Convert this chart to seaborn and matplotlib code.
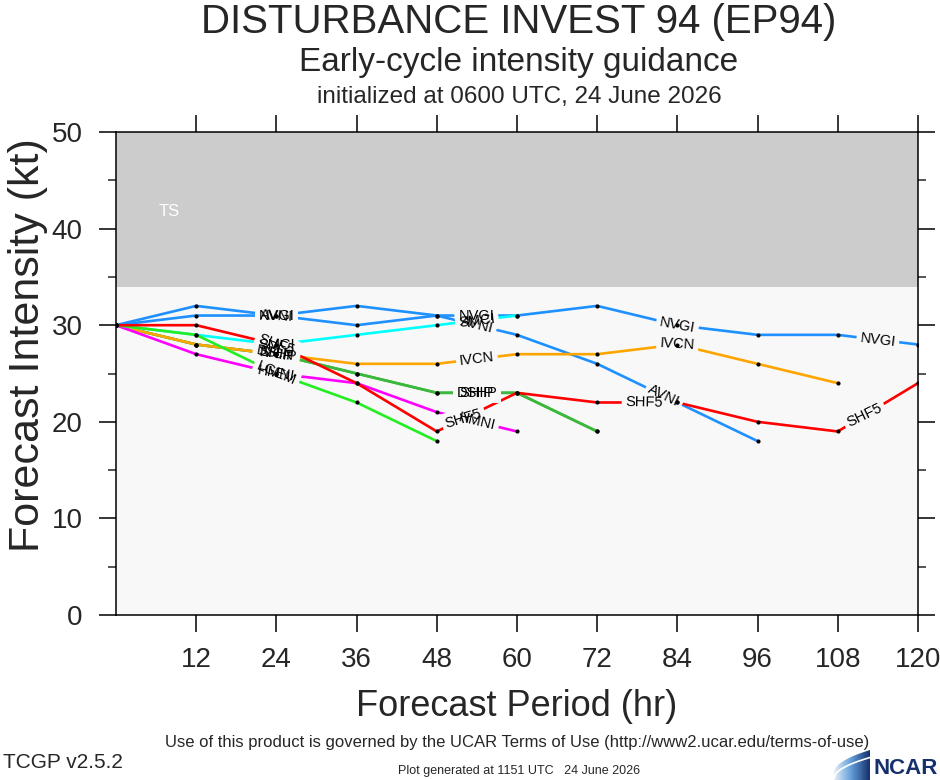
import numpy as np
import pandas as pd
import matplotlib
matplotlib.use('Agg')
import matplotlib.pyplot as plt
import seaborn as sns
from matplotlib.patches import Polygon

# forecast hours and model intensities (kt)
hours = [0, 12, 24, 36, 48, 60, 72, 84, 96, 108, 120]

nvgi = [30, 32, 31, 32, 31, 31, 32, 30, 29, 29, 28]
avni = [30, 31, 31, 30, 31, 29, 26, 22, 18]
ivcn = [30, 28, 27, 26, 26, 27, 27, 28, 26, 24]
smci = [30, 29, 28, 29, 30, 31]
dshp = [30, 28, 27, 25, 23, 23, 19]
ship = [30, 28, 27, 25, 23, 23, 19]
hmni = [30, 27, 25, 24, 21, 19]
lgem = [30, 29, 25, 22, 18]
shf5 = [30, 30, 28, 24, 19, 23, 22, 22, 20, 19, 24]

models = ['NVGI', 'AVNI', 'DSHP', 'SHIP', 'IVCN', 'SMCI', 'HMNI', 'LGEM', 'SHF5']
values = [nvgi, avni, dshp, ship, ivcn, smci, hmni, lgem, shf5]
colors = {'NVGI': '#1e90ff', 'AVNI': '#1e90ff', 'IVCN': '#ffa500', 'SMCI': '#00ffff',
          'DSHP': '#3cb83c', 'SHIP': '#3cb83c', 'HMNI': '#ff00ff', 'LGEM': '#22ee22',
          'SHF5': '#ff0000'}
label_hours = {'NVGI': [24, 54, 84, 114], 'AVNI': [24, 54, 82], 'IVCN': [24, 54, 84],
               'SMCI': [24, 54], 'DSHP': [24, 54], 'SHIP': [24, 54], 'HMNI': [24, 54],
               'LGEM': [24], 'SHF5': [24, 52, 79, 112]}

rows = []
for m, v in zip(models, values):
    for h, kt in zip(hours, v):
        rows.append({'model': m, 'hour': h, 'kt': kt})
df = pd.DataFrame(rows)

sns.set_style('ticks')
plt.rcParams['font.family'] = ['Liberation Sans', 'DejaVu Sans']
narrow = ['Liberation Sans Narrow', 'Liberation Sans']
bg = '#f8f8f8'

fig = plt.figure(figsize=(9.4, 7.8), dpi=100)
ax = fig.add_axes([116/940, 1-615/780, (918-116)/940, (615-132)/780])
ax.set_facecolor(bg)
ax.axhspan(34, 50, color='#cccccc', lw=0, zorder=0)
ax.text(8, 41.8, 'TS', color='white', fontsize=12, ha='center', va='center')

sns.lineplot(data=df, x='hour', y='kt', hue='model', hue_order=models, palette=colors,
             estimator=None, sort=False, linewidth=1.9, legend=False, ax=ax, zorder=2)
sns.scatterplot(data=df, x='hour', y='kt', color='black', s=9, linewidth=0,
                ax=ax, zorder=5)

# line labels with a gap in the line behind them
for m, v in zip(models, values):
    xs = hours[:len(v)]
    for h in label_hours[m]:
        y = np.interp(h, xs, v)
        xa, xb = h - 6, min(h + 6, xs[-1])
        ang = np.degrees(np.arctan2(np.interp(xb, xs, v) - np.interp(xa, xs, v), xb - xa))
        kw = dict(ha='center', va='center', fontsize=10.5, rotation=ang,
                  rotation_mode='anchor', transform_rotates_text=True)
        ax.text(h, y, m, color='none', zorder=3,
                bbox=dict(facecolor=bg, edgecolor='none', pad=2.5), **kw)
        ax.text(h, y, m, color='black', zorder=4, **kw)

ax.set_xlim(0, 120)
ax.set_ylim(0, 50)
ax.set_xticks([12, 24, 36, 48, 60, 72, 84, 96, 108, 120])
ax.set_yticks([0, 10, 20, 30, 40, 50])
ax.set_yticks([5, 15, 25, 35, 45], minor=True)
ax.tick_params(axis='both', which='major', direction='out', length=12, width=1.1,
               labelsize=20, top=True, right=True, color='black')
ax.tick_params(axis='y', which='minor', direction='out', length=6, width=1.1,
               left=True, right=True)
ax.tick_params(axis='x', pad=11)
ax.tick_params(axis='y', pad=12)
for s in ax.spines.values():
    s.set_linewidth(1.1)
    s.set_color('black')
ax.set_xlabel('')
ax.set_ylabel('')

fig.text(28/940, 1-345/780, 'Forecast Intensity (kt)', rotation=90, fontsize=31,
         ha='center', va='center')
fig.text(517/940, 1-707/780, 'Forecast Period (hr)', fontsize=26, ha='center', va='center')

fig.text(519/940, 1-22/780, 'DISTURBANCE INVEST 94 (EP94)', fontsize=29, ha='center', va='center')
fig.text(519/940, 1-62/780, 'Early-cycle intensity guidance', fontsize=24, ha='center', va='center')
fig.text(519/940, 1-97/780, 'initialized at 0600 UTC, 24 June 2026', fontsize=17.5,
         ha='center', va='center')

fig.text(517/940, 1-742/780,
         'Use of this product is governed by the UCAR Terms of Use (http://www2.ucar.edu/terms-of-use)',
         fontsize=12, family=narrow, ha='center', va='center')
fig.text(3/940, 1-762/780, 'TCGP v2.5.2', fontsize=15, family=narrow, ha='left', va='center')
fig.text(519/940, 1-771/780, 'Plot generated at 1151 UTC   24 June 2026', fontsize=9,
         family=narrow, ha='center', va='center')

# NCAR logo: text plus a gradient swoosh
fig.text(938/940, 1-769/780, 'NCAR', fontsize=16, family=narrow, weight='bold',
         color='#16306b', ha='right', va='center')
lax = fig.add_axes([834/940, 0, 36/940, 30/780])
lax.set_xlim(0, 1)
lax.set_ylim(0, 1)
lax.axis('off')
t = np.linspace(0, 1, 30)
curve = np.column_stack([t, 0.25 + 0.75 * np.sqrt(t)])
shape = Polygon(np.vstack([[0, 0], curve, [1, 0]]), closed=True, transform=lax.transData)
grad = lax.imshow(np.linspace(0, 1, 64)[None, :], extent=[0, 1, 0, 1], aspect='auto',
                  cmap=matplotlib.colors.LinearSegmentedColormap.from_list(
                      'ncar', ['#e4eef8', '#5e9ad6', '#16306b']))
grad.set_clip_path(shape)
lax.plot(t, 0.05 + 0.7 * np.sqrt(t), color='white', lw=1.2)

fig.savefig('out.png', dpi=100)
